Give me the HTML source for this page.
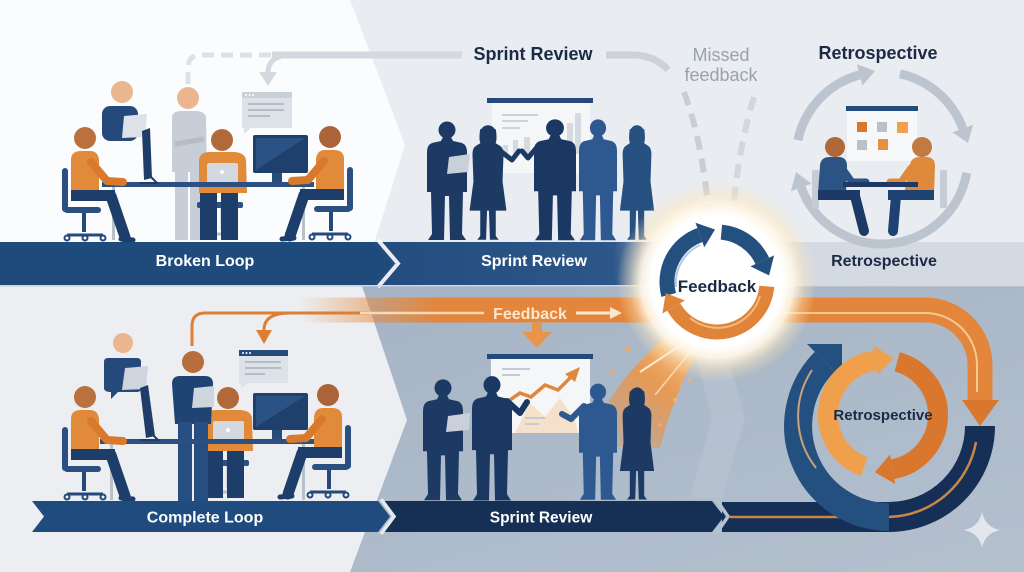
<!DOCTYPE html>
<html><head><meta charset="utf-8">
<style>
html,body{margin:0;padding:0;width:1024px;height:572px;overflow:hidden;background:#e9ecf0}
svg{display:block}
text{font-family:"Liberation Sans",Arial,sans-serif}
</style></head><body>
<svg width="1024" height="572" viewBox="0 0 1024 572" xmlns="http://www.w3.org/2000/svg">
<defs>
 <linearGradient id="bgBR" x1="0" y1="0" x2="1" y2="1">
  <stop offset="0" stop-color="#a2b1c3"/><stop offset="1" stop-color="#b4c0ce"/>
 </linearGradient>
 <linearGradient id="orBand" gradientUnits="userSpaceOnUse" x1="300" y1="0" x2="440" y2="0">
  <stop offset="0" stop-color="#e6883a" stop-opacity="0"/><stop offset="1" stop-color="#e3853b" stop-opacity="1"/>
 </linearGradient>
 <linearGradient id="srTop" gradientUnits="userSpaceOnUse" x1="380" x2="680" y1="0" y2="0">
  <stop offset="0" stop-color="#234c7f"/><stop offset="0.78" stop-color="#2d5689"/><stop offset="1" stop-color="#2d5689" stop-opacity="0"/>
 </linearGradient>
 <radialGradient id="glow" cx="717" cy="282" r="100" gradientUnits="userSpaceOnUse">
  <stop offset="0" stop-color="#ffffff"/><stop offset="0.66" stop-color="#ffffff"/>
  <stop offset="0.76" stop-color="#fff7e6" stop-opacity="0.92"/>
  <stop offset="0.88" stop-color="#fde6bd" stop-opacity="0.4"/>
  <stop offset="1" stop-color="#fde6bd" stop-opacity="0"/>
 </radialGradient>
 <linearGradient id="swoosh" gradientUnits="userSpaceOnUse" x1="700" y1="325" x2="600" y2="450">
  <stop offset="0" stop-color="#fcd59e" stop-opacity="1"/><stop offset="0.45" stop-color="#ee9646" stop-opacity="0.9"/><stop offset="1" stop-color="#e6883a" stop-opacity="0.15"/>
 </linearGradient>
 <g id="man">
  <circle cx="0" cy="0" r="8.5"/>
  <path d="M-4,7 L4,7 L6,11 L15,13 Q20,15 20,22 L20,62 L16,62 L15,104 L19,110 L3,110 L2,66 L-2,66 L-3,110 L-19,110 L-15,104 L-16,62 L-20,62 L-20,22 Q-20,15 -15,13 L-6,11 Z"/>
 </g>
 <g id="woman">
  <circle cx="0" cy="0" r="8"/>
  <path d="M-8,-4 Q-10,8 -7,12 L7,12 Q10,8 8,-4 Z"/>
  <path d="M-4,8 L4,8 L12,13 Q16,15 16,22 L15,50 L19,80 L8,80 L8,106 L11,110 L2,110 L1,80 L-1,80 L-2,110 L-11,110 L-8,106 L-8,80 L-19,80 L-15,50 L-16,22 Q-16,15 -12,13 Z"/>
 </g>
 <g id="sitter">
  <rect x="-23" y="30" width="6" height="44" rx="3" fill="#2a4f80"/>
  <rect x="-21" y="69" width="37" height="6" rx="3" fill="#2a4f80"/>
  <rect x="-3" y="75" width="4" height="19" fill="#24497a"/>
  <path d="M-18,97 L18,97" stroke="#24497a" stroke-width="3"/>
  <circle cx="-18" cy="100" r="2.5" fill="none" stroke="#24497a" stroke-width="2"/>
  <circle cx="18" cy="100" r="2.5" fill="none" stroke="#24497a" stroke-width="2"/>
  <circle cx="0" cy="100" r="2.5" fill="none" stroke="#24497a" stroke-width="2"/>
  <path d="M-14,22 Q-14,13 -4,13 L5,13 Q13,13 14,22 L14,55 L-14,55 Z" fill="#e08a3a"/>
  <path d="M6,24 L22,43 L38,44" stroke="#d9792c" stroke-width="8" fill="none" stroke-linecap="round" stroke-linejoin="round"/>
  <path d="M-14,52 L30,52 L30,63 L-14,63 Z" fill="#1d3d6a"/>
  <path d="M26,58 L40,99" stroke="#1d3d6a" stroke-width="11" stroke-linecap="round"/>
  <path d="M36,101 L48,102" stroke="#1d3d6a" stroke-width="5" stroke-linecap="round"/>
 </g>
 <g id="center">
  <rect x="-25" y="62" width="46" height="6" rx="2" fill="#2b5283"/>
  <path d="M0,68 L0,90 M-14,94 L14,94" stroke="#b8c0ca" stroke-width="3"/>
  <path d="M-23,20 Q-22,12 -12,12 L13,12 Q23,13 24,20 L25,53 L-23,53 Z" fill="#e08a3a"/>
  <rect x="-22" y="53" width="17" height="47" fill="#1d3d6a"/>
  <rect x="-1" y="53" width="17" height="47" fill="#1d3d6a"/>
  <rect x="-15" y="23" width="31" height="21" rx="2" fill="#d4d9e0"/>
  <circle cx="0" cy="32" r="2" fill="#ffffff"/>
 </g>
</defs>

<!-- BACKGROUNDS -->
<rect x="0" y="0" width="1024" height="288" fill="#e9ecf0"/>
<polygon points="0,0 350,0 405,145 372,250 0,250" fill="#fbfcfd"/>
<rect x="0" y="286" width="1024" height="286" fill="url(#bgBR)"/>
<polygon points="0,286 362,286 407,420 350,572 0,572" fill="#eceef1"/>
<polygon points="690,335 722,335 745,418 722,498 690,498 712,418" fill="#bac5d3" opacity="0.6"/>

<!-- TOP BANDS -->
<rect x="370" y="242" width="300" height="43" fill="url(#srTop)"/>
<polygon points="0,242 372,242 392,263.5 372,285 0,285" fill="#1f4a7c"/>
<polyline points="378,240 398,263.5 378,287" fill="none" stroke="#ffffff" stroke-width="4" opacity="0.9"/>
<rect x="760" y="242" width="264" height="43" fill="#d4dae2"/>
<rect x="0" y="285" width="1024" height="2" fill="#c2cad4" opacity="0.6"/>
<text x="205" y="266" font-size="16" font-weight="bold" fill="#ffffff" text-anchor="middle">Broken Loop</text>
<text x="534" y="266" font-size="16" font-weight="bold" fill="#ffffff" text-anchor="middle">Sprint Review</text>
<text x="884" y="266" font-size="16" font-weight="bold" fill="#1b2a45" text-anchor="middle">Retrospective</text>

<!-- TOP CONNECTOR LINES -->
<path d="M188,84 L188,68 Q188,55 201,55 L272,55" fill="none" stroke="#dde1e6" stroke-width="5" stroke-dasharray="12 7"/>
<path d="M272,55 L462,55" stroke="#d4d9df" stroke-width="7"/>
<path d="M292,55 Q268,55 268,73" fill="none" stroke="#d4d9df" stroke-width="5"/>
<polygon points="259,72 277,72 268,86" fill="#d4d9df"/>
<path d="M606,55 L632,55 Q655,55 668,70" fill="none" stroke="#cdd2d9" stroke-width="7"/>
<path d="M684,92 Q702,140 709,215" fill="none" stroke="#c9ced5" stroke-width="6" stroke-dasharray="14 9"/>
<path d="M754,97 Q738,150 733,212" fill="none" stroke="#d3d7dd" stroke-width="6" stroke-dasharray="14 9"/>
<text x="533" y="60" font-size="18" font-weight="bold" fill="#1b2a45" text-anchor="middle">Sprint Review</text>
<text x="721" y="61" font-size="18" fill="#9aa2ad" text-anchor="middle">Missed</text>
<text x="721" y="81" font-size="18" fill="#9aa2ad" text-anchor="middle">feedback</text>
<text x="878" y="59" font-size="18" font-weight="bold" fill="#1b2a45" text-anchor="middle">Retrospective</text>

<!-- TOP-LEFT SCENE -->
<circle cx="122" cy="92" r="11" fill="#e9b690"/>
<rect x="102" y="106" width="36" height="35" rx="8" fill="#24497a"/>
<polygon points="124,116 147,114 145,137 122,138" fill="#dde2e8"/>
<circle cx="188" cy="98" r="11" fill="#e9b690"/>
<path d="M172,118 Q172,111 181,111 L196,111 Q205,111 206,118 L207,172 L172,172 Z" fill="#c8ced7"/>
<path d="M175,144 L204,139" stroke="#b5bcc6" stroke-width="5"/>
<rect x="175" y="170" width="13" height="70" fill="#c8ced7"/>
<rect x="190" y="170" width="13" height="70" fill="#c8ced7"/>
<rect x="242" y="92" width="50" height="36" fill="#dde2e8"/>
<rect x="242" y="92" width="50" height="6" fill="#c9d0d8"/>
<circle cx="246" cy="95" r="1" fill="#fff"/><circle cx="249.5" cy="95" r="1" fill="#fff"/><circle cx="253" cy="95" r="1" fill="#fff"/>
<rect x="248" y="103" width="36" height="2" fill="#b5bdc8"/><rect x="248" y="109" width="36" height="2" fill="#b5bdc8"/><rect x="248" y="115" width="22" height="2" fill="#b5bdc8"/>
<polygon points="244,127 252,127 244,134" fill="#dde2e8"/>
<use href="#center" transform="translate(222,140)"/>
<circle cx="222" cy="140" r="11" fill="#b2693a"/>
<rect x="102" y="182" width="212" height="5" fill="#2c5082"/>
<rect x="112" y="187" width="3" height="53" fill="#b8c0ca"/>
<rect x="302" y="187" width="3" height="53" fill="#b8c0ca"/>
<polygon points="142,131 150,128 152,178 144,180" fill="#1e3d69"/>
<path d="M150,176 L157,183 L140,183" stroke="#1e3d69" stroke-width="2" fill="none"/>
<rect x="253" y="135" width="55" height="38" rx="2" fill="#1f3f6c"/>
<polygon points="256,138 305,138 256,170" fill="#2a5285"/>
<rect x="272" y="173" width="10" height="10" fill="#2a4c7c"/>
<use href="#sitter" transform="translate(85,138)"/>
<circle cx="85" cy="138" r="11" fill="#bb713e"/>
<use href="#sitter" transform="translate(330,137) scale(-1,1)"/>
<circle cx="330" cy="137" r="11" fill="#ab643a"/>

<!-- BOTTOM-LEFT SCENE -->
<circle cx="123" cy="343" r="10" fill="#e9b690"/>
<path d="M108,358 L137,358 Q141,358 141,362 L141,388 Q141,392 137,392 L118,392 L111,399 L111,392 Q104,392 104,388 L104,362 Q104,358 108,358 Z" fill="#24497a"/>
<polygon points="125,368 148,366 146,389 122,390" fill="#cfd5dd"/>
<rect x="239" y="350" width="49" height="33" fill="#dde2e8"/>
<rect x="239" y="350" width="49" height="6" fill="#254b7c"/>
<circle cx="243" cy="353" r="1" fill="#fff"/><circle cx="246.5" cy="353" r="1" fill="#fff"/><circle cx="250" cy="353" r="1" fill="#fff"/>
<rect x="245" y="361" width="36" height="2" fill="#b5bdc8"/><rect x="245" y="367" width="36" height="2" fill="#b5bdc8"/><rect x="245" y="373" width="20" height="2" fill="#b5bdc8"/>
<polygon points="241,382 249,382 241,389" fill="#dde2e8"/>
<use href="#center" transform="translate(228,398)"/>
<circle cx="228" cy="398" r="11" fill="#b2693a"/>
<circle cx="193" cy="362" r="11" fill="#b86d3c"/>
<path d="M172,384 Q172,376 180,376 L205,376 Q213,376 213,384 L211,424 L175,424 Z" fill="#1f4474"/>
<rect x="178" y="422" width="14" height="80" fill="#274e80"/>
<rect x="194" y="422" width="14" height="80" fill="#274e80"/>
<polygon points="194,388 214,386 214,407 192,408" fill="#cfd5dd"/>
<rect x="100" y="439" width="215" height="5" fill="#2c5082"/>
<rect x="110" y="444" width="3" height="56" fill="#b8c0ca"/>
<rect x="302" y="444" width="3" height="56" fill="#b8c0ca"/>
<polygon points="140,388 148,385 155,436 146,438" fill="#1e3d69"/>
<path d="M152,434 L158,440 L140,440" stroke="#1e3d69" stroke-width="2" fill="none"/>
<rect x="253" y="393" width="55" height="37" rx="2" fill="#1f3f6c"/>
<polygon points="256,396 305,396 256,427" fill="#2a5285"/>
<rect x="272" y="430" width="10" height="9" fill="#2a4c7c"/>
<use href="#sitter" transform="translate(85,397)"/>
<circle cx="85" cy="397" r="11" fill="#bb713e"/>
<use href="#sitter" transform="translate(328,395) scale(-1,1)"/>
<circle cx="328" cy="395" r="11" fill="#ab643a"/>

<!-- BOTTOM BANDS -->
<polygon points="384,501 712,501 724,516.5 712,532 384,532 396,516.5" fill="#152f55"/>
<polygon points="32,501 378,501 390,516.5 378,532 32,532 44,516.5" fill="#1f4b7e"/>
<polyline points="381,499 394,516.5 381,534" fill="none" stroke="#e6eaef" stroke-width="3.5"/>
<path d="M722,517 L889,517 A91 91 0 0 0 980,426" fill="none" stroke="#152f57" stroke-width="30"/>
<polyline points="716,499 728,516.5 716,534" fill="none" stroke="#b6c1cf" stroke-width="3.5"/>
<path d="M730,517 L889,517 A91 91 0 0 0 976,442" fill="none" stroke="#c98648" stroke-width="2.5"/>
<text x="205" y="522.5" font-size="16" font-weight="bold" fill="#ffffff" text-anchor="middle">Complete Loop</text>
<text x="541" y="522.5" font-size="15.5" font-weight="bold" fill="#ffffff" text-anchor="middle">Sprint Review</text>

<!-- RETRO RING BOTTOM -->
<path d="M889,517 A91 91 0 0 1 824.7,361.7" fill="none" stroke="#24507f" stroke-width="28"/>
<polygon points="807,344 842,379 842,344" fill="#24507f"/>
<path d="M816,468 A84 84 0 0 1 812,370" fill="none" stroke="#c9a27e" stroke-width="2"/>
<path d="M864.2,466.7 A55 55 0 0 1 875.4,360.5" fill="none" stroke="#f0a04c" stroke-width="20"/>
<polygon points="873.3,345.6 877.5,375.4 893.2,358" fill="#f0a04c"/>
<path d="M897.2,361.9 A55 55 0 0 1 892.6,469.2" fill="none" stroke="#d9772e" stroke-width="20"/>
<polygon points="895.2,484 890,454.4 874.9,472.3" fill="#d9772e"/>
<text x="883" y="420" font-size="15" font-weight="bold" fill="#1b2a45" text-anchor="middle">Retrospective</text>

<!-- ORANGE FEEDBACK BAND -->
<path d="M300,310 L925,310 A55 55 0 0 1 980,365 L980,402" fill="none" stroke="url(#orBand)" stroke-width="25"/>
<polygon points="962,400 999,400 980,426" fill="#d9782d"/>
<path d="M770,313 L925,313 A52 52 0 0 1 977,365 L977,392" fill="none" stroke="#f6c98f" stroke-width="2"/>
<path d="M192,346 L192,326 Q192,313 205,313 L370,313" fill="none" stroke="#dc7f34" stroke-width="3"/>
<path d="M290,313 Q264,313 264,330" fill="none" stroke="#dc7f34" stroke-width="3"/>
<polygon points="256,330 272,330 264,344" fill="#dc7f34"/>
<path d="M360,313 L484,313" stroke="#fde2c0" stroke-width="2.5" opacity="0.9"/>
<text x="530" y="319" font-size="16" font-weight="bold" fill="#fde7cc" text-anchor="middle">Feedback</text>
<path d="M576,313 L612,313" stroke="#fde7cc" stroke-width="3"/>
<polygon points="610,307 622,313 610,319" fill="#fde7cc"/>
<rect x="532" y="323" width="10" height="10" fill="#e8944a"/>
<polygon points="522,332 552,332 537,348" fill="#e8944a"/>

<!-- BOTTOM MIDDLE SCENE -->
<rect x="487" y="354" width="106" height="5" fill="#234a7a"/>
<rect x="491" y="359" width="99" height="74" fill="#f4f6f8"/>
<rect x="502" y="368" width="28" height="2" fill="#c4cbd4"/><rect x="502" y="374" width="18" height="2" fill="#c4cbd4"/>
<path d="M515,433 L530,403 L545,417 L560,398 L575,420 L578,433 Z" fill="#f6d9b9" opacity="0.75"/>
<polyline points="507,402 520,393 531,397 545,385 558,390 571,377" stroke="#e0873a" stroke-width="3.5" fill="none"/>
<polygon points="565,374 580,367 575,382" fill="#e0873a"/>
<rect x="525" y="417" width="20" height="2" fill="#c4cbd4"/><rect x="525" y="423" width="14" height="2" fill="#c4cbd4"/>
<path d="M688,318 L708,334 Q676,385 660,448 L590,446 Q604,384 688,318 Z" fill="url(#swoosh)"/>
<path d="M640,372 L684,343" stroke="#fff7e8" stroke-width="2" opacity="0.85"/>
<path d="M655,395 L692,350" stroke="#fff2dc" stroke-width="1.5" opacity="0.7"/>
<circle cx="628" cy="350" r="2.5" fill="#f2a85c"/><circle cx="660" cy="425" r="2" fill="#f2a85c"/><circle cx="675" cy="400" r="2" fill="#f5b36a"/><circle cx="612" cy="372" r="2" fill="#f2a85c"/><circle cx="690" cy="380" r="1.8" fill="#f5b36a"/>
<use href="#man" transform="translate(443,388) scale(1,1.02)" fill="#1d3a64"/>
<polygon points="448,416 470,413 469,430 446,432" fill="#c9d0d9"/>
<use href="#man" transform="translate(492,385) scale(1,1.05)" fill="#1b3862"/>
<path d="M507,401 L520,413 L527,402" stroke="#1b3862" stroke-width="6" fill="none" stroke-linecap="round" stroke-linejoin="round"/>
<use href="#man" transform="translate(598,392) scale(0.95,0.98)" fill="#2d5890"/>
<path d="M584,406 L571,419 L562,414" stroke="#2d5890" stroke-width="6" fill="none" stroke-linecap="round" stroke-linejoin="round"/>
<use href="#woman" transform="translate(637,395) scale(0.9,0.95)" fill="#1d3a64"/>

<!-- TOP MIDDLE SCENE -->
<rect x="487" y="98" width="106" height="5" fill="#234a7a"/>
<rect x="492" y="103" width="98" height="70" fill="#f4f6f8"/>
<rect x="502" y="114" width="36" height="2" fill="#cdd3db"/><rect x="502" y="120" width="26" height="2" fill="#cdd3db"/><rect x="502" y="127" width="18" height="2" fill="#cdd3db"/>
<rect x="503" y="145" width="5" height="9" fill="#d5dae1"/><rect x="513" y="140" width="5" height="14" fill="#d5dae1"/><rect x="524" y="137" width="6" height="17" fill="#d5dae1"/><rect x="567" y="123" width="6" height="31" fill="#d5dae1"/><rect x="575" y="113" width="6" height="41" fill="#d5dae1"/>
<use href="#man" transform="translate(447,130)" fill="#1d3a64"/>
<polygon points="449,157 470,154 468,172 447,174" fill="#c9d0d9"/>
<use href="#woman" transform="translate(488,133) scale(0.97)" fill="#1d3a64"/>
<path d="M499,150 L512,160 L519,151" stroke="#1d3a64" stroke-width="5" fill="none" stroke-linecap="round" stroke-linejoin="round"/>
<use href="#man" transform="translate(555,128) scale(1.05,1.02)" fill="#1b3862"/>
<path d="M538,146 L528,158 L522,151" stroke="#1b3862" stroke-width="5" fill="none" stroke-linecap="round" stroke-linejoin="round"/>
<use href="#man" transform="translate(598,128) scale(0.95,1.02)" fill="#2d5890"/>
<use href="#woman" transform="translate(637,133) scale(0.9,0.97)" fill="#26507f"/>

<!-- TOP RIGHT RETRO SCENE -->
<path d="M797.9,140.1 A86 86 0 0 1 859.7,74.9" fill="none" stroke="#bcc5cf" stroke-width="9"/>
<polygon points="856.9,64.3 862.5,85.5 875,71" fill="#bcc5cf"/>
<path d="M899.9,73.9 A86 86 0 0 1 962.8,128.6" fill="none" stroke="#bcc5cf" stroke-width="9"/>
<polygon points="973.1,124.8 952.5,132.4 968,143" fill="#bcc5cf"/>
<path d="M966.7,172.9 A86 86 0 0 1 801.2,187.4" fill="none" stroke="#bcc5cf" stroke-width="9"/>
<polygon points="790.9,191.2 811.5,183.6 796,172" fill="#bcc5cf"/>
<rect x="846" y="106" width="72" height="5" fill="#234a7a"/>
<rect x="847" y="111" width="70" height="50" fill="#f7f8fa"/>
<rect x="857" y="122" width="10" height="10" fill="#d9772d"/>
<rect x="877" y="122" width="10" height="10" fill="#b9c1cb"/>
<rect x="897" y="122" width="11" height="11" fill="#f0a24a"/>
<rect x="857" y="140" width="10" height="10" fill="#b9c1cb"/>
<rect x="878" y="139" width="10" height="11" fill="#e6913e"/>
<rect x="812" y="170" width="7" height="38" rx="2" fill="#c5ccd6"/>
<rect x="940" y="170" width="7" height="38" rx="2" fill="#c5ccd6"/>
<path d="M820,165 Q821,157 830,157 L840,157 Q847,158 847,166 L846,194 L818,194 Z" fill="#2b5384"/>
<path d="M842,168 L852,182 L866,182" stroke="#2b5384" stroke-width="7" fill="none" stroke-linecap="round" stroke-linejoin="round"/>
<rect x="818" y="190" width="42" height="10" fill="#1c3a65"/>
<path d="M855,196 L864,231" stroke="#1c3a65" stroke-width="10" stroke-linecap="round"/>
<path d="M910,165 Q911,157 920,157 L928,157 Q935,158 935,166 L934,194 L904,194 Z" fill="#df8a3b"/>
<path d="M911,168 L901,182 L890,182" stroke="#df8a3b" stroke-width="7" fill="none" stroke-linecap="round" stroke-linejoin="round"/>
<rect x="888" y="190" width="46" height="10" fill="#1e4272"/>
<path d="M896,196 L893,231" stroke="#1e4272" stroke-width="10" stroke-linecap="round"/>
<rect x="843" y="182" width="75" height="5" fill="#1e3a64"/>
<circle cx="835" cy="147" r="10" fill="#b0683a"/>
<circle cx="922" cy="147" r="10" fill="#c07a42"/>

<!-- FEEDBACK CIRCLE -->
<circle cx="717" cy="282" r="100" fill="url(#glow)"/>
<circle cx="717" cy="282" r="66" fill="#ffffff"/>
<path d="M668.7,294.9 A50 50 0 0 1 699.9,235" fill="none" stroke="#24507f" stroke-width="15"/>
<polygon points="695.5,222.8 704.3,247.2 715,229.5" fill="#24507f"/>
<path d="M721.4,232.2 A50 50 0 0 1 762.3,260.9" fill="none" stroke="#24507f" stroke-width="15"/>
<polygon points="774.1,255.4 750.5,266.4 769.1,275.4" fill="#24507f"/>
<path d="M766.8,286.4 A50 50 0 0 1 673.7,307" fill="none" stroke="#e0843a" stroke-width="15"/>
<polygon points="662.4,313.5 685,300.5 665.7,293.1" fill="#e0843a"/>
<path d="M676,287 A42 42 0 0 1 700,245" fill="none" stroke="#8fb0d4" stroke-width="2" opacity="0.7"/>
<path d="M760,296 A44 44 0 0 1 690,318" fill="none" stroke="#f7c58e" stroke-width="2" opacity="0.8"/>
<text x="717" y="292" font-size="17" font-weight="bold" fill="#1b2a45" text-anchor="middle">Feedback</text>

<!-- SPARKLE -->
<path d="M982,512 Q985,527 1000,530 Q985,533 982,548 Q979,533 964,530 Q979,527 982,512 Z" fill="#e2e7ee"/>
</svg>
</body></html>
